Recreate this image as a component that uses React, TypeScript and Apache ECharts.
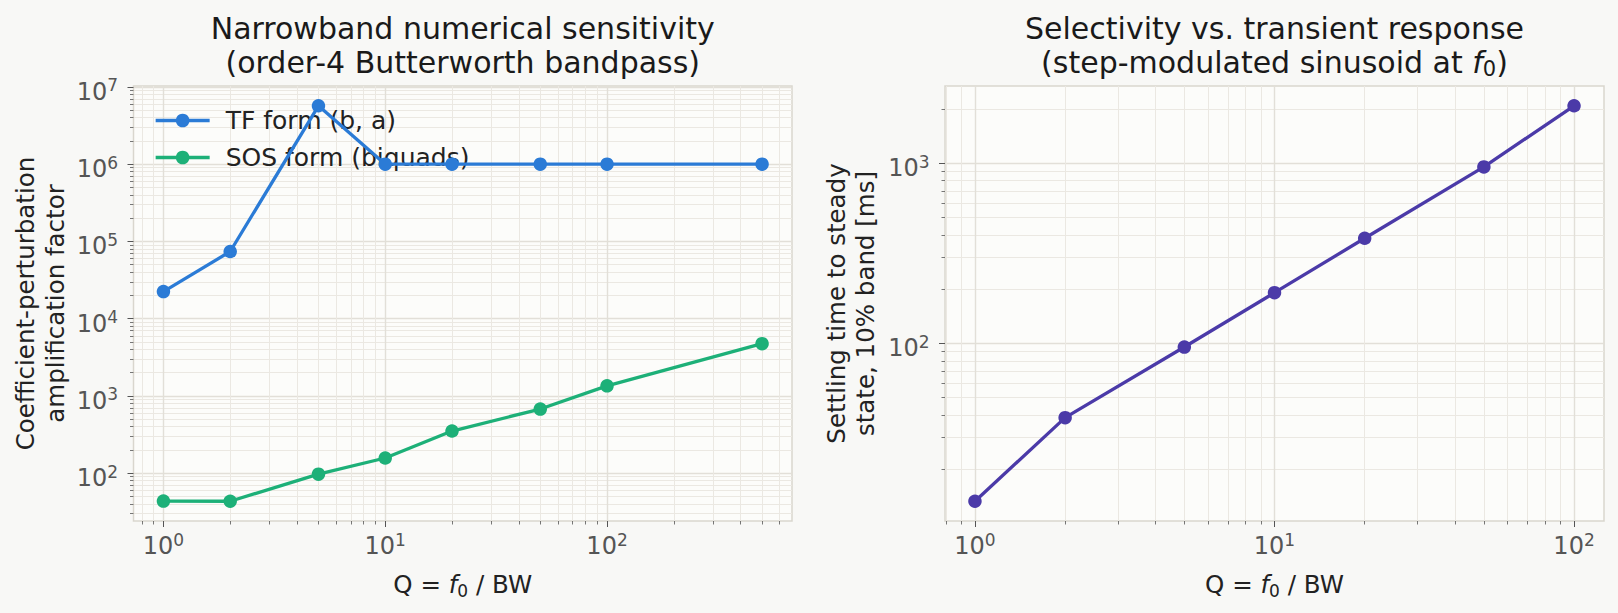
import React, { useEffect, useRef } from "react";
import * as echarts from "echarts";

// ---- data -------------------------------------------------------------
const qSweepSensitivity = [1, 2, 5, 10, 20, 50, 100, 500];
const tfAmplification = [22400, 74000, 5.7e6, 1.0e6, 1.0e6, 1.0e6, 1.0e6, 1.0e6];
const sosAmplification = [43.5, 43.3, 97, 157, 351, 676, 1350, 4750];

const qSweepSettling = [1, 2, 5, 10, 20, 50, 100];
const settlingMs = [13.3, 38.7, 95.4, 191, 383, 953, 2082];

const seriesNames = ["TF form (b, a)", "SOS form (biquads)", "Settling time"];
const seriesColors = ["#2b7bd6", "#1db078", "#4b3aa8"];

const titleLeft = "Narrowband numerical sensitivity\n(order-4 Butterworth bandpass)";
const titleRight = "Selectivity vs. transient response\n(step-modulated sinusoid at {i|f}{sub|0})";
const xName = "Q = {i|f}{sub|0} / BW";
const yNameLeft = "Coefficient-perturbation\namplification factor";
const yNameRight = "Settling time to steady\nstate, 10% band [ms]";

// ---- style ------------------------------------------------------------
const FONT = "DejaVu Sans";
const FIG_BG = "#f8f8f6";
const AX_BG = "#fcfcfa";
const SPINE = "#d9d6ce";
const MAJOR_GRID = "#e2dfd8";
const MINOR_GRID = "#ebe8e2";
const TICK_COLOR = "#555555";
const LABEL_COLOR = "#222222";
const LINE_W = 3.3;
const MARKER = 13.5;
const NAME_SIZE = 24.5;

const GRIDS = [
  { left: 133.5, top: 86, width: 658.5, height: 435 },
  { left: 945, top: 86, width: 659, height: 435 },
];

// log10 extent with 5% padding (in decades) on each side
function logExtent(values: number[]): [number, number] {
  const logs = values.map((v) => Math.log10(v));
  const lo = Math.min(...logs);
  const hi = Math.max(...logs);
  const pad = (hi - lo) * 0.05;
  return [lo - pad, hi + pad];
}

function majorTicks([lo, hi]: [number, number]) {
  const out: number[] = [];
  for (let d = Math.ceil(lo); d <= Math.floor(hi); d++) out.push(d);
  return out;
}

function minorTicks([lo, hi]: [number, number]) {
  const out: number[] = [];
  for (let d = Math.floor(lo); d <= Math.ceil(hi); d++) {
    for (let k = 2; k <= 9; k++) {
      const v = d + Math.log10(k);
      if (v >= lo && v <= hi) out.push(v);
    }
  }
  return out;
}

const powRich = {
  b: { fontSize: 24, lineHeight: 30, color: TICK_COLOR, fontFamily: FONT, verticalAlign: "middle" },
  s: { fontSize: 17, lineHeight: 17, color: TICK_COLOR, fontFamily: FONT, verticalAlign: "top" },
};

const mathRich = (size: number, lh: number) => ({
  i: { fontSize: size, lineHeight: lh, fontStyle: "italic", fontFamily: FONT, color: LABEL_COLOR, verticalAlign: "middle" },
  sub: { fontSize: Math.round(size * 0.7), lineHeight: Math.round(size * 0.7), fontFamily: FONT, color: LABEL_COLOR, verticalAlign: "bottom" },
});

function axisPair(
  kind: "x" | "y",
  gridIndex: number,
  ext: [number, number],
  name: string,
  nameGap: number,
  nameLineHeight: number
) {
  const position = kind === "x" ? "bottom" : "left";
  const majors = majorTicks(ext);
  const minor = {
    type: "value",
    gridIndex,
    position,
    min: ext[0],
    max: ext[1],
    axisLine: { show: false, onZero: false },
    axisTick: {
      show: true,
      length: 3.5,
      customValues: minorTicks(ext),
      lineStyle: { color: TICK_COLOR, width: 0.8 },
    },
    axisLabel: { show: false },
    splitLine: { show: true, lineStyle: { color: MINOR_GRID, width: 1 } },
  };
  const major = {
    type: "value",
    gridIndex,
    position,
    min: ext[0],
    max: ext[1],
    name,
    nameLocation: "middle",
    nameGap,
    nameRotate: kind === "y" ? 90 : 0,
    nameTextStyle: {
      fontFamily: FONT,
      fontSize: NAME_SIZE,
      lineHeight: nameLineHeight,
      color: LABEL_COLOR,
      rich: mathRich(NAME_SIZE, nameLineHeight),
    },
    axisLine: { show: false, onZero: false },
    axisTick: {
      show: true,
      length: 6,
      customValues: majors,
      lineStyle: { color: TICK_COLOR, width: 1 },
    },
    axisLabel: {
      customValues: majors,
      formatter: (v: number) => `{b|10}{s|${Math.round(v)}}`,
      rich: powRich,
      margin: kind === "x" ? 10 : 15.5,
      padding: kind === "y" ? [10, 0, 0, 0] : 0,
    },
    splitLine: { show: true, lineStyle: { color: MAJOR_GRID, width: 1.4 } },
  };
  return [minor, major];
}

function toLogPoints(xs: number[], ys: number[]) {
  return xs.map((x, i) => [Math.log10(x), Math.log10(ys[i])]);
}

function buildOption() {
  const xExtL = logExtent(qSweepSensitivity);
  const yExtL = logExtent([...tfAmplification, ...sosAmplification]);
  const xExtR = logExtent(qSweepSettling);
  const yExtR = logExtent(settlingMs);

  const lineSeries = (idx: number, axis: number, xs: number[], ys: number[]) => ({
    type: "line",
    name: seriesNames[idx],
    xAxisIndex: axis,
    yAxisIndex: axis,
    data: toLogPoints(xs, ys),
    symbol: "circle",
    symbolSize: MARKER,
    showSymbol: true,
    clip: false,
    z: 5,
    lineStyle: { color: seriesColors[idx], width: LINE_W },
    itemStyle: { color: seriesColors[idx] },
    emphasis: { disabled: true },
  });

  const titleStyle = {
    fontFamily: FONT,
    fontSize: 30,
    lineHeight: 34,
    fontWeight: "normal",
    color: "#1a1a1a",
  };

  return {
    animation: false,
    backgroundColor: FIG_BG,
    textStyle: { fontFamily: FONT },
    title: [
      {
        text: titleLeft,
        left: GRIDS[0].left + GRIDS[0].width / 2,
        top: 11,
        padding: 0,
        textAlign: "center",
        textStyle: titleStyle,
      },
      {
        text: titleRight,
        left: GRIDS[1].left + GRIDS[1].width / 2,
        top: 11,
        padding: 0,
        textAlign: "center",
        textStyle: {
          ...titleStyle,
          rich: {
            i: { fontSize: 30, lineHeight: 34, fontStyle: "italic", fontFamily: FONT, color: "#1a1a1a", verticalAlign: "middle" },
            sub: { fontSize: 21, lineHeight: 21, fontFamily: FONT, color: "#1a1a1a", verticalAlign: "bottom" },
          },
        },
      },
    ],
    legend: {
      data: [seriesNames[0], seriesNames[1]],
      orient: "vertical",
      left: 154,
      top: 107,
      padding: 0,
      itemWidth: 54,
      itemHeight: 17,
      itemGap: 10,
      selectedMode: false,
      lineStyle: { width: LINE_W },
      textStyle: { fontFamily: FONT, fontSize: 25, lineHeight: 27, color: LABEL_COLOR, padding: [0, 0, 0, 11] },
    },
    grid: GRIDS.map((g) => ({
      ...g,
      show: true,
      backgroundColor: AX_BG,
      borderColor: SPINE,
      borderWidth: 1.5,
    })),
    xAxis: [
      ...axisPair("x", 0, xExtL, xName, 48, 30),
      ...axisPair("x", 1, xExtR, xName, 48, 30),
    ],
    yAxis: [
      ...axisPair("y", 0, yExtL, yNameLeft, 63, 30),
      ...axisPair("y", 1, yExtR, yNameRight, 65, 29),
    ],
    series: [
      lineSeries(0, 1, qSweepSensitivity, tfAmplification),
      lineSeries(1, 1, qSweepSensitivity, sosAmplification),
      lineSeries(2, 3, qSweepSettling, settlingMs),
    ],
  };
}

export default function App() {
  const ref = useRef<HTMLDivElement>(null);
  useEffect(() => {
    if (!ref.current) return;
    const chart = echarts.init(ref.current, null, { renderer: "svg" });
    chart.setOption(buildOption() as any);
    return () => chart.dispose();
  }, []);
  return (
    <div
      ref={ref}
      style={{ position: "fixed", left: 0, top: 0, width: 1618, height: 613 }}
    />
  );
}
